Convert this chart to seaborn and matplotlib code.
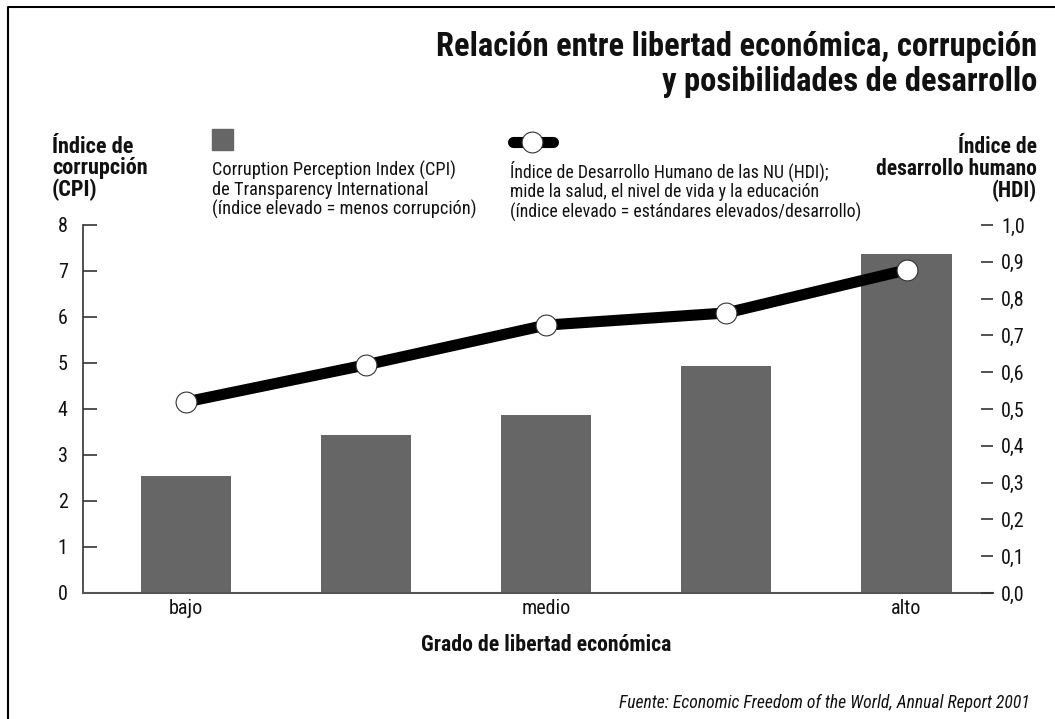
import matplotlib
matplotlib.use("Agg")
import matplotlib.pyplot as plt
from matplotlib.lines import Line2D
from matplotlib.patches import Rectangle
import seaborn as sns
import numpy as np
import pandas as pd

# datos
grados = ["bajo", "bajo-medio", "medio", "medio-alto", "alto"]
etiquetas_x = ["bajo", "", "medio", "", "alto"]
cpi = [2.55, 3.43, 3.87, 4.93, 7.38]
hdi = [0.519, 0.620, 0.728, 0.761, 0.878]
ticks_cpi = [0, 1, 2, 3, 4, 5, 6, 7, 8]
ticks_hdi = [0.0, 0.1, 0.2, 0.3, 0.4, 0.5, 0.6, 0.7, 0.8, 0.9, 1.0]

gris = "#666666"

sns.set_style("white")
plt.rcParams['font.family'] = ['Roboto Condensed', 'Liberation Sans', 'DejaVu Sans']
plt.rcParams['text.color'] = '#111111'
plt.rcParams['ytick.labelcolor'] = '#111111'
plt.rcParams['xtick.labelcolor'] = '#111111'

df = pd.DataFrame({'grado': grados, 'cpi': cpi, 'hdi': hdi})

W, H = 1055, 719
fig = plt.figure(figsize=(W / 100, H / 100), dpi=100)
ax = fig.add_axes([83 / W, 1 - 593 / H, (993 - 83) / W, (593 - 225) / H])

sns.barplot(data=df, x='grado', y='cpi', order=grados, color=gris,
            width=0.5, saturation=1, ax=ax, edgecolor='none')
ax.set_xlim(-0.57, 4.48)
ax.set_ylim(0, 8)
ax.set_yticks(ticks_cpi)
ax.set_yticklabels([str(t) for t in ticks_cpi], fontsize=14.5)
ax.set_xticks(range(len(grados)))
ax.set_xticklabels(etiquetas_x, fontsize=14.5)
ax.tick_params(axis='x', length=0, pad=4)
ax.tick_params(axis='y', direction='in', length=10, width=1.2, color='#333333', pad=11)
ax.set_xlabel("")
ax.set_ylabel("")
for s in ['top', 'right']:
    ax.spines[s].set_visible(False)
ax.spines['left'].set_color('#333333')
ax.spines['bottom'].set_color('#555555')
ax.spines['left'].set_linewidth(1.2)
ax.spines['bottom'].set_linewidth(1.5)

# eje derecho HDI
ax2 = ax.twinx()
sns.lineplot(x=np.arange(len(grados)), y=hdi, ax=ax2, color='black', lw=8,
             marker='o', markersize=15, markerfacecolor='white',
             markeredgecolor='#333333', markeredgewidth=0.8)
ax2.set_ylim(0, 1.0)
ax2.set_yticks(ticks_hdi)
ax2.set_yticklabels([f"{t:.1f}".replace('.', ',') for t in ticks_hdi], fontsize=14.5)
ax2.tick_params(axis='y', direction='in', length=9, width=1.2, color='#333333', pad=6)
for s in ['top', 'right', 'left', 'bottom']:
    ax2.spines[s].set_visible(False)
ax2.set_xlim(-0.57, 4.48)

# títulos y textos
fig.text(1037 / W, 1 - 31 / H, "Relación entre libertad económica, corrupción\ny posibilidades de desarrollo",
         ha='right', va='top', fontsize=23.5, fontweight='bold', linespacing=1.1)
fig.text(52 / W, 1 - 136 / H, "Índice de\ncorrupción\n(CPI)", ha='left', va='top',
         fontsize=16, fontweight='bold', linespacing=0.96)
fig.text(1037 / W, 1 - 136 / H, "Índice de\ndesarrollo humano\n(HDI)", ha='right', va='top',
         fontsize=15.5, fontweight='bold', linespacing=0.98)

# leyenda
fig.patches.append(Rectangle((212 / W, 1 - 150 / H), 21 / W, 21 / H,
                             transform=fig.transFigure, color=gris))
fig.text(212 / W, 1 - 161 / H,
         "Corruption Perception Index (CPI)\nde Transparency International\n(índice elevado = menos corrupción)",
         ha='left', va='top', fontsize=13.2, linespacing=1.05)
fig.lines.append(Line2D([513 / W, 553 / W], [1 - 142 / H, 1 - 142 / H], transform=fig.transFigure,
                        color='black', lw=8, solid_capstyle='round'))
fig.lines.append(Line2D([532 / W], [1 - 142 / H], transform=fig.transFigure, marker='o',
                        markersize=15, markerfacecolor='white', markeredgecolor='#333333',
                        markeredgewidth=0.8, lw=0))
fig.text(510 / W, 1 - 161 / H,
         "Índice de Desarrollo Humano de las NU (HDI);\nmide la salud, el nivel de vida y la educación\n(índice elevado = estándares elevados/desarrollo)",
         ha='left', va='top', fontsize=12.8, linespacing=1.08)

fig.text(546 / W, 1 - 645 / H, "Grado de libertad económica", ha='center', va='center',
         fontsize=15.7, fontweight='bold')
fig.text(1030 / W, 1 - 703 / H, "Fuente: Economic Freedom of the World, Annual Report 2001",
         ha='right', va='center', fontsize=12.7, style='italic')

# marco
fig.lines.append(Line2D([8 / W, 8 / W, 1], [0, 1 - 7 / H, 1 - 7 / H],
                        transform=fig.transFigure, color='black', lw=1.5))

fig.savefig("out.png", dpi=100)
